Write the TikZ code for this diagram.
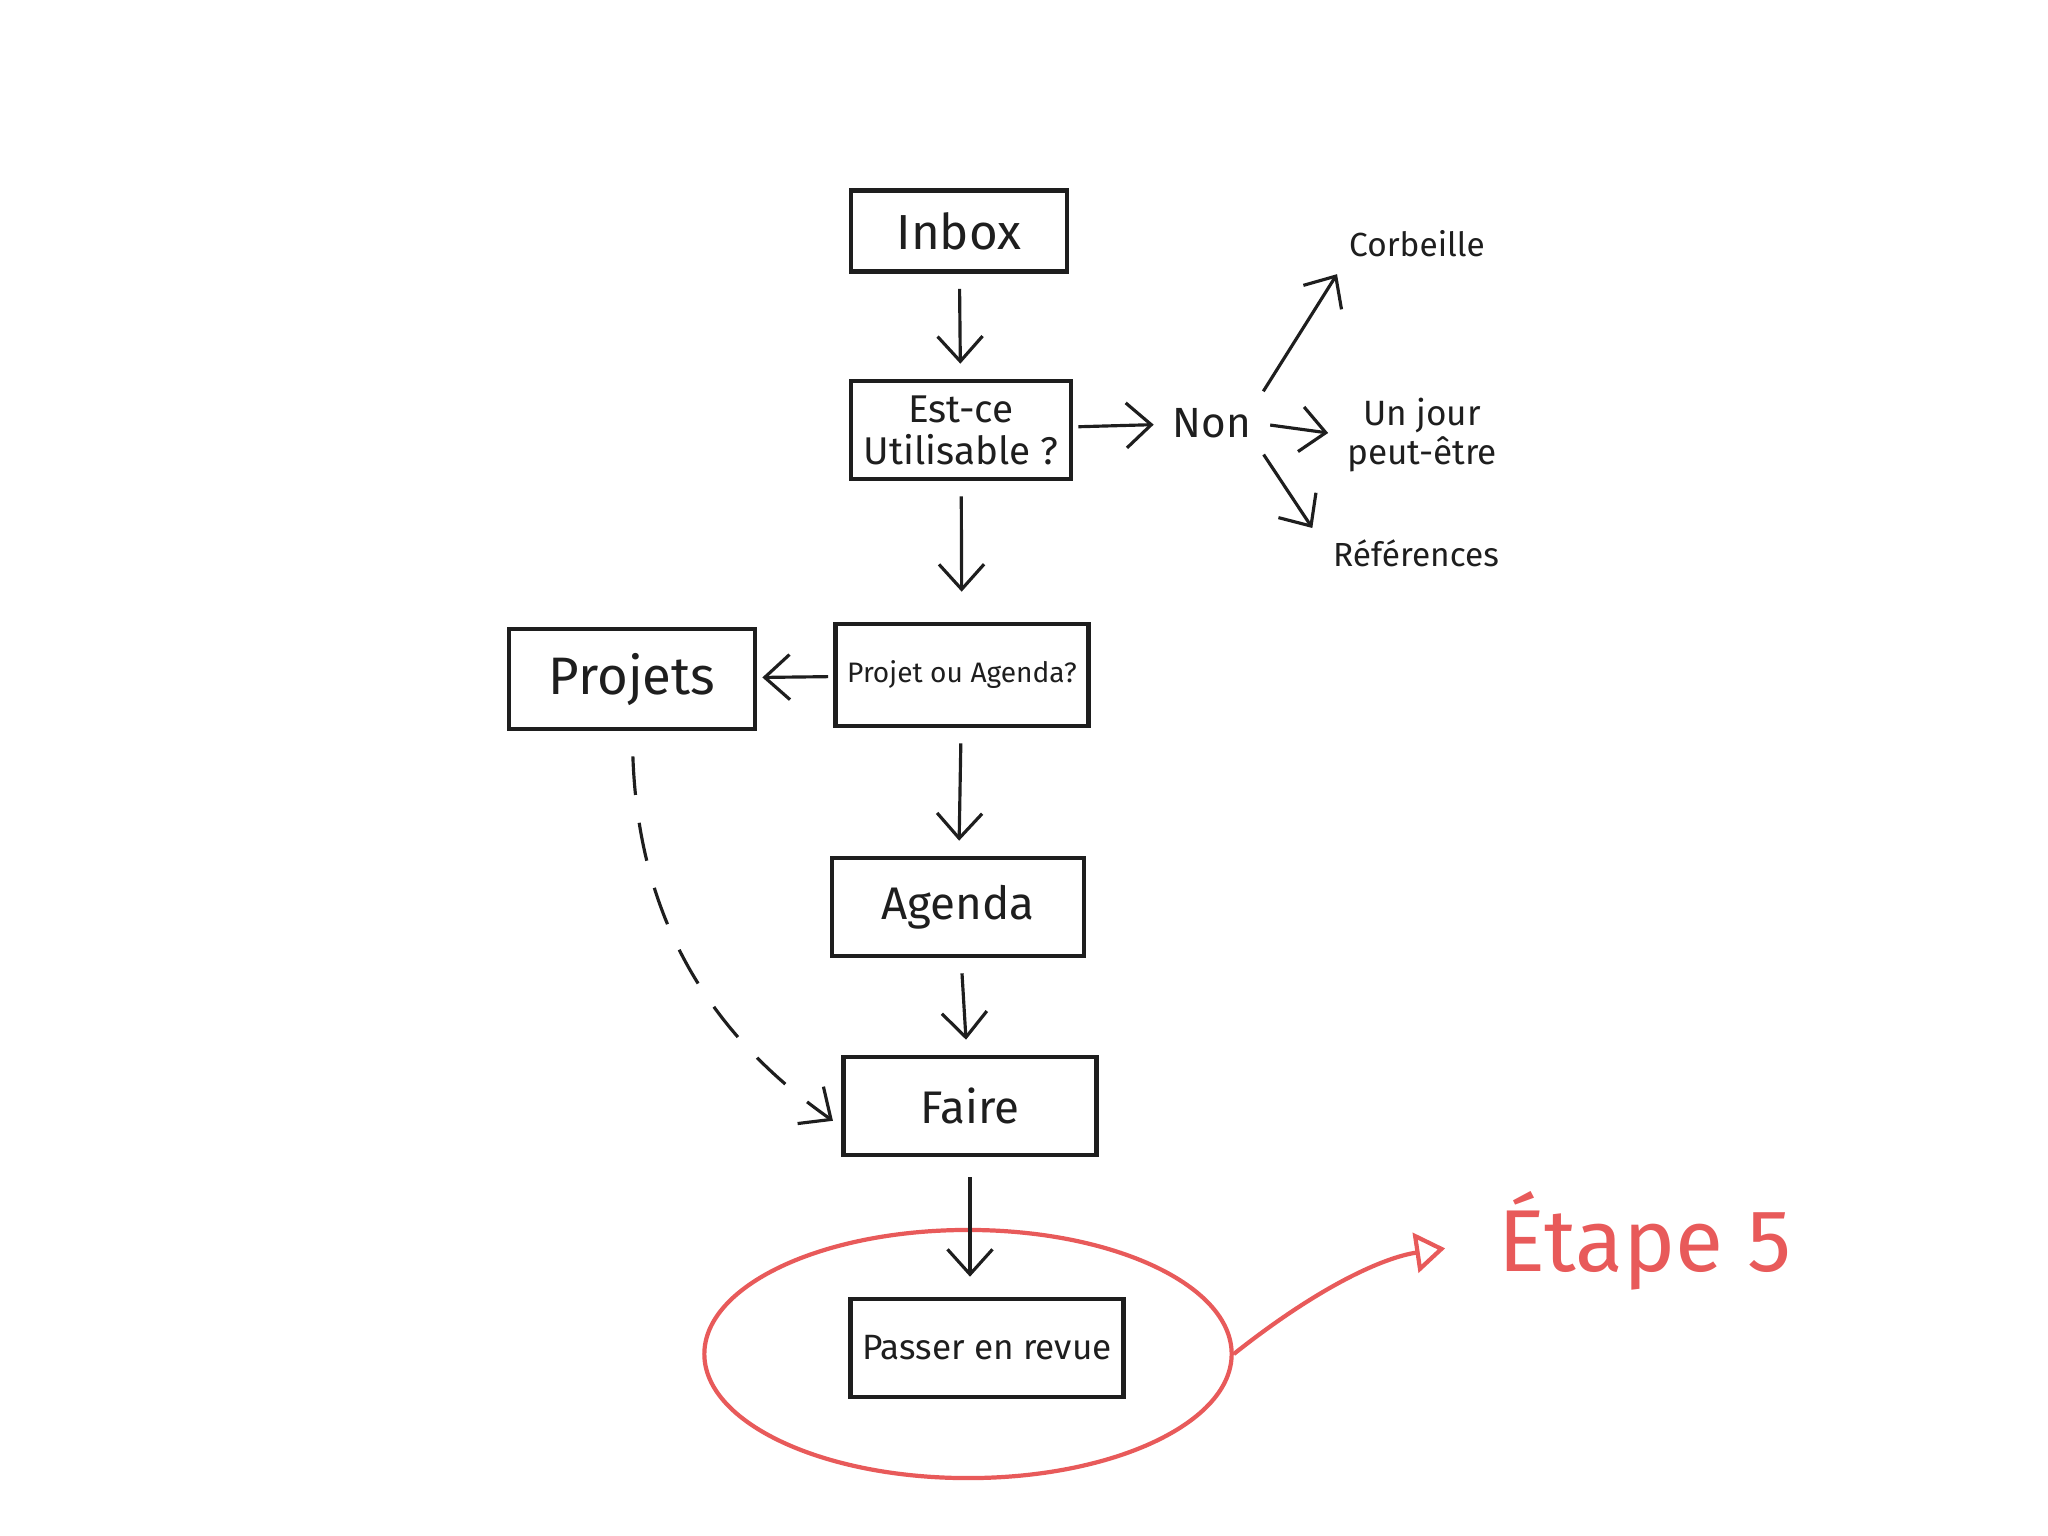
\documentclass[tikz,border=0pt]{standalone}
\usepackage{fontspec}
\setmainfont{Fira Sans}
\usetikzlibrary{arrows.meta,positioning,shapes.geometric,calc}
\definecolor{encre}{HTML}{1E1E1E}
\definecolor{rouge}{HTML}{E85A5A}
\tikzset{
  boite/.style={rectangle, draw=encre, line width=1.3pt, align=center, text=encre,
                minimum width=#1, minimum height=0.98cm},
  mot/.style={align=center, text=encre, inner sep=1pt},
  fleche/.style={-{Straight Barb[length=2.5mm,width=4.5mm]}, line width=0.9pt, draw=encre,
                 shorten <=1.5mm, shorten >=1.5mm},
  pointille/.style={fleche, dash pattern=on 11pt off 8pt},
  anneau/.style={ellipse, draw=rouge, line width=1.2pt, minimum width=5.27cm, minimum height=2.48cm},
}
\begin{document}
\begin{tikzpicture}[x=0.01cm, y=-0.01cm]
        \useasboundingbox (0,0) rectangle (2048,1535);
        % colonne centrale
        \node[boite=2.16cm, minimum height=0.81cm, font=\fontsize{14}{16}\selectfont] (inbox) at (959,231) {Inbox};
        \node[boite=2.2cm, font=\fontsize{11}{12}\selectfont] (utile) at (961,430) {Est-ce\\Utilisable ?};
        \node[boite=2.49cm, minimum height=1.02cm, font=\fontsize{8}{9}\selectfont] (choix) at (962,675) {Projet ou Agenda?};
        \node[boite=2.46cm, minimum height=1cm, font=\fontsize{15}{17}\selectfont] (projets) at (632,679) {Projets};
        \node[boite=2.52cm, font=\fontsize{13}{15}\selectfont] (agenda) at (958,907) {Agenda};
        \node[boite=2.53cm, font=\fontsize{13}{15}\selectfont] (faire) at (970,1106) {Faire};
        \node[boite=2.66cm, font=\fontsize{10}{12}\selectfont] (revue) at (987,1348) {Passer en revue};
        % branche du non
        \node[mot, font=\fontsize{12}{14}\selectfont] (non) at (1212,423) {Non};
        \node[mot, font=\fontsize{9.5}{11}\selectfont] (corbeille) at (1417,244) {Corbeille};
        \node[mot, font=\fontsize{10}{11}\selectfont] (jour) at (1422,435) {Un jour\\peut-être};
        \node[mot, font=\fontsize{9.5}{11}\selectfont] (refs) at (1416,553) {Références};
        % étape 5
        \node[anneau] (cercle) at (968,1354) {};
        \node[mot, text=rouge, font=\fontsize{25}{30}\selectfont] (etape) at (1645,1241) {Étape 5};
        \draw[fleche] (inbox) -- (utile);
        \draw[fleche, shorten >=3mm] (utile) -- (choix);
        \draw[fleche, shorten <=0.5mm, shorten >=0.5mm] (choix) -- (projets);
        \draw[fleche] (choix) -- (agenda);
        \draw[fleche] (agenda) -- (faire);
        \draw[fleche, shorten <=2mm, shorten >=2mm] (faire.south) -- (faire.south |- revue.north);
        \draw[fleche, shorten <=0.5mm] (utile) -- (non);
        \draw[fleche] (non.north east) -- (corbeille.south west);
        \draw[fleche] (non.east) -- (jour.west);
        \draw[fleche, shorten >=3mm] (non.south east) -- (refs.west);
        \draw[pointille, shorten <=2.5mm, shorten >=1mm] (projets.south) to[out=-88, in=145] ($(faire.west)!0.4!(faire.south west)$);
        \draw[-{Triangle[open,length=3mm,width=4mm]}, line width=1.2pt, draw=rouge, shorten >=5mm]
          (cercle.east) to[bend left=15] (etape.west);
      \end{tikzpicture}
\end{document}
